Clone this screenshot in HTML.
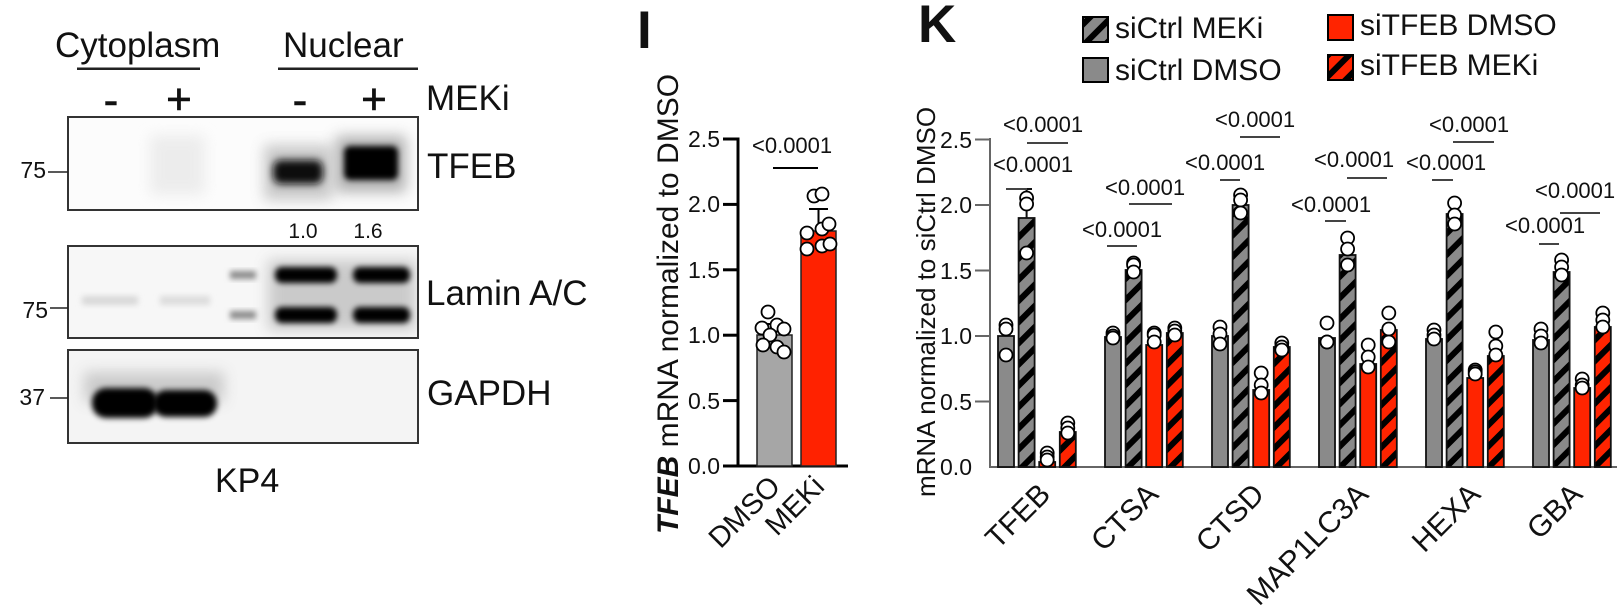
<!DOCTYPE html>
<html><head><meta charset="utf-8"><style>html,body{margin:0;padding:0;background:#fff;}svg{display:block}</style></head>
<body>
<svg width="1622" height="606" viewBox="0 0 1622 606" xmlns="http://www.w3.org/2000/svg" font-family="'Liberation Sans', Arial, sans-serif" fill="#111">
<defs>
  <filter id="b3" x="-50%" y="-50%" width="200%" height="200%"><feGaussianBlur stdDeviation="3"/></filter>
  <filter id="b4" x="-50%" y="-50%" width="200%" height="200%"><feGaussianBlur stdDeviation="4"/></filter>
  <filter id="b7" x="-50%" y="-50%" width="200%" height="200%"><feGaussianBlur stdDeviation="7"/></filter>
  <clipPath id="c1"><rect x="68" y="117" width="350" height="93"/></clipPath>
  <clipPath id="c2"><rect x="68" y="246" width="350" height="92"/></clipPath>
  <clipPath id="c3"><rect x="68" y="350" width="350" height="93"/></clipPath>
  <pattern id="hg" patternUnits="userSpaceOnUse" width="15" height="15" patternTransform="rotate(45)">
    <rect width="15" height="15" fill="#8a8a8a"/><rect width="6" height="15" fill="#000"/>
  </pattern>
  <pattern id="hr" patternUnits="userSpaceOnUse" width="15" height="15" patternTransform="rotate(45)">
    <rect width="15" height="15" fill="#ff2400"/><rect width="6" height="15" fill="#000"/>
  </pattern>
</defs>

<!-- ===== Western blot ===== -->
<text x="55" y="57" font-size="35">Cytoplasm</text>
<rect x="77" y="67.5" width="123" height="2.5" fill="#222"/>
<text x="283" y="57" font-size="35">Nuclear</text>
<rect x="278" y="67.5" width="140" height="2.5" fill="#222"/>
<g font-size="44" text-anchor="middle" stroke="#111" stroke-width="0.6">
  <text x="111" y="115">-</text><text x="179" y="114">+</text>
  <text x="300" y="115">-</text><text x="374" y="114">+</text>
</g>
<text x="426" y="110" font-size="35">MEKi</text>

<!-- TFEB blot -->
<rect x="68" y="117" width="350" height="93" fill="#fcfcfc"/>
<g clip-path="url(#c1)">
  <rect x="150" y="135" width="55" height="60" fill="#e2e2e2" filter="url(#b7)" opacity="0.6"/>
  <rect x="264" y="145" width="68" height="55" fill="#888" filter="url(#b7)" opacity="0.45"/>
  <rect x="273" y="160" width="50" height="24" rx="8" fill="#111" filter="url(#b4)"/>
  <rect x="336" y="136" width="70" height="56" fill="#666" filter="url(#b7)" opacity="0.5"/>
  <rect x="344" y="146" width="54" height="34" rx="6" fill="#000" filter="url(#b3)"/>
</g>
<rect x="68" y="117" width="350" height="93" fill="none" stroke="#333" stroke-width="2"/>
<text x="46" y="178" font-size="23" text-anchor="end">75</text>
<line x1="48" y1="172" x2="68" y2="172" stroke="#222" stroke-width="1.6"/>
<text x="427" y="178" font-size="35">TFEB</text>
<text x="303" y="238" font-size="21" text-anchor="middle">1.0</text>
<text x="368" y="238" font-size="21" text-anchor="middle">1.6</text>

<!-- Lamin blot -->
<rect x="68" y="246" width="350" height="92" fill="#f7f7f7"/>
<g clip-path="url(#c2)">
  <rect x="82" y="296" width="56" height="9" fill="#d8d8d8" filter="url(#b3)"/>
  <rect x="160" y="296" width="50" height="9" fill="#dcdcdc" filter="url(#b3)"/>
  <rect x="230" y="271" width="26" height="8" fill="#8a8a8a" filter="url(#b3)"/>
  <rect x="230" y="311" width="26" height="8" fill="#8a8a8a" filter="url(#b3)"/>
  <rect x="268" y="260" width="148" height="70" fill="#888" filter="url(#b7)" opacity="0.4"/>
  <rect x="275" y="267" width="62" height="16" rx="7" fill="#000" filter="url(#b3)"/>
  <rect x="353" y="267" width="57" height="16" rx="7" fill="#000" filter="url(#b3)"/>
  <rect x="275" y="307" width="62" height="16" rx="7" fill="#000" filter="url(#b3)"/>
  <rect x="353" y="307" width="57" height="16" rx="7" fill="#000" filter="url(#b3)"/>
</g>
<rect x="68" y="246" width="350" height="92" fill="none" stroke="#333" stroke-width="2"/>
<text x="48" y="318" font-size="23" text-anchor="end">75</text>
<line x1="50" y1="308" x2="68" y2="308" stroke="#222" stroke-width="1.6"/>
<text x="426" y="305" font-size="35">Lamin A/C</text>

<!-- GAPDH blot -->
<rect x="68" y="350" width="350" height="93" fill="#f4f4f4"/>
<g clip-path="url(#c3)">
  <rect x="84" y="372" width="140" height="30" fill="#999" filter="url(#b7)" opacity="0.45"/>
  <rect x="92" y="388" width="66" height="30" rx="14" fill="#000" filter="url(#b3)"/>
  <rect x="153" y="390" width="64" height="27" rx="13" fill="#000" filter="url(#b3)"/>
</g>
<rect x="68" y="350" width="350" height="93" fill="none" stroke="#333" stroke-width="2"/>
<text x="45" y="405" font-size="23" text-anchor="end">37</text>
<line x1="50" y1="398" x2="68" y2="398" stroke="#222" stroke-width="1.6"/>
<text x="427" y="405" font-size="35">GAPDH</text>
<text x="215" y="492" font-size="34">KP4</text>

<!-- ===== Panel I ===== -->
<text x="637" y="48" font-size="53" font-weight="bold">I</text>
<g transform="translate(678,304) rotate(-90)"><text x="0" y="0" font-size="30" text-anchor="middle"><tspan font-weight="bold" font-style="italic">TFEB</tspan> mRNA normalized to DMSO</text></g>
<g stroke="#000" stroke-width="3">
  <line x1="738" y1="137.5" x2="738" y2="467.5"/>
  <line x1="736.5" y1="466" x2="848" y2="466"/>
  <line x1="723" y1="139" x2="738" y2="139"/>
  <line x1="723" y1="204.4" x2="738" y2="204.4"/>
  <line x1="723" y1="269.8" x2="738" y2="269.8"/>
  <line x1="723" y1="335.2" x2="738" y2="335.2"/>
  <line x1="723" y1="400.6" x2="738" y2="400.6"/>
  <line x1="723" y1="466" x2="738" y2="466"/>
</g>
<g font-size="23" text-anchor="end">
  <text x="720" y="147">2.5</text><text x="720" y="212">2.0</text><text x="720" y="278">1.5</text>
  <text x="720" y="343">1.0</text><text x="720" y="409">0.5</text><text x="720" y="474">0.0</text>
</g>
<rect x="757" y="335" width="35" height="131" fill="#a6a6a6" stroke="#222" stroke-width="1.5"/>
<rect x="801" y="231" width="35" height="235" fill="#ff2200" stroke="#222" stroke-width="1.5"/>
<g stroke="#000" stroke-width="2">
  <line x1="818.5" y1="231" x2="818.5" y2="209"/><line x1="809" y1="209" x2="828" y2="209"/>
  <line x1="774.5" y1="335" x2="774.5" y2="324"/><line x1="767" y1="324" x2="782" y2="324"/>
  <line x1="773" y1="168" x2="818" y2="168"/>
</g>
<text x="752" y="153" font-size="22">&lt;0.0001</text>
<g fill="#fff" stroke="#000" stroke-width="1.8">
  <circle cx="768" cy="312" r="6.5"/><circle cx="762" cy="328" r="6.5"/><circle cx="777" cy="325" r="6.5"/>
  <circle cx="784" cy="329" r="6.5"/><circle cx="770" cy="335" r="6.5"/><circle cx="763" cy="345" r="6.5"/>
  <circle cx="777" cy="347" r="6.5"/><circle cx="784" cy="352" r="6.5"/>
  <circle cx="814" cy="196" r="6.5"/><circle cx="822" cy="194" r="6.5"/><circle cx="807" cy="233" r="6.5"/>
  <circle cx="822" cy="229" r="6.5"/><circle cx="829" cy="224" r="6.5"/><circle cx="807" cy="249" r="6.5"/>
  <circle cx="822" cy="246" r="6.5"/><circle cx="830" cy="244" r="6.5"/>
</g>
<g font-size="29" text-anchor="end">
  <text transform="translate(782,488) rotate(-45)">DMSO</text>
  <text transform="translate(826,488) rotate(-45)">MEKi</text>
</g>

<!-- ===== Panel K ===== -->
<text x="918" y="42" font-size="53" font-weight="bold">K</text>
<rect x="1083" y="17" width="25" height="25" fill="url(#hg)" stroke="#000" stroke-width="2"/>
<text x="1115" y="38" font-size="30">siCtrl MEKi</text>
<rect x="1083" y="58" width="25" height="24" fill="#8a8a8a" stroke="#000" stroke-width="2"/>
<text x="1115" y="80" font-size="30">siCtrl DMSO</text>
<rect x="1328" y="15" width="25" height="25" fill="#ff2400" stroke="#000" stroke-width="2"/>
<text x="1360" y="35" font-size="30">siTFEB DMSO</text>
<rect x="1328" y="55" width="25" height="25" fill="url(#hr)" stroke="#000" stroke-width="2"/>
<text x="1360" y="75" font-size="30">siTFEB MEKi</text>

<g transform="translate(935,302) rotate(-90)"><text x="0" y="0" font-size="26" text-anchor="middle">mRNA normalized to siCtrl DMSO</text></g>
<g stroke="#666" stroke-width="2">
  <line x1="990" y1="138" x2="990" y2="468"/>
  <line x1="989" y1="467" x2="1617" y2="467"/>
  <line x1="975" y1="139.5" x2="990" y2="139.5"/>
  <line x1="975" y1="205" x2="990" y2="205"/>
  <line x1="975" y1="270.5" x2="990" y2="270.5"/>
  <line x1="975" y1="336" x2="990" y2="336"/>
  <line x1="975" y1="401.5" x2="990" y2="401.5"/>
</g>
<g font-size="23" text-anchor="end">
  <text x="972" y="148">2.5</text><text x="972" y="213">2.0</text><text x="972" y="279">1.5</text>
  <text x="972" y="344">1.0</text><text x="972" y="410">0.5</text><text x="972" y="475">0.0</text>
</g>

<g stroke="#111" stroke-width="1.8">
  <rect x="998" y="336" width="16" height="131" fill="#8a8a8a"/>
  <rect x="1018.6" y="218" width="16" height="249" fill="url(#hg)"/>
  <rect x="1039.2" y="462" width="16" height="5" fill="#ff2400"/>
  <rect x="1059.8" y="432" width="16" height="35" fill="url(#hr)"/>
  <rect x="1105" y="337" width="16" height="130" fill="#8a8a8a"/>
  <rect x="1125.6" y="270" width="16" height="197" fill="url(#hg)"/>
  <rect x="1146.2" y="345" width="16" height="122" fill="#ff2400"/>
  <rect x="1166.8" y="333" width="16" height="134" fill="url(#hr)"/>
  <rect x="1212" y="336" width="16" height="131" fill="#8a8a8a"/>
  <rect x="1232.6" y="205" width="16" height="262" fill="url(#hg)"/>
  <rect x="1253.2" y="390" width="16" height="77" fill="#ff2400"/>
  <rect x="1273.8" y="347" width="16" height="120" fill="url(#hr)"/>
  <rect x="1319" y="338" width="16" height="129" fill="#8a8a8a"/>
  <rect x="1339.6" y="255" width="16" height="212" fill="url(#hg)"/>
  <rect x="1360.2" y="364" width="16" height="103" fill="#ff2400"/>
  <rect x="1380.8" y="330" width="16" height="137" fill="url(#hr)"/>
  <rect x="1426" y="339" width="16" height="128" fill="#8a8a8a"/>
  <rect x="1446.6" y="214" width="16" height="253" fill="url(#hg)"/>
  <rect x="1467.2" y="378" width="16" height="89" fill="#ff2400"/>
  <rect x="1487.8" y="356" width="16" height="111" fill="url(#hr)"/>
  <rect x="1533" y="340" width="16" height="127" fill="#8a8a8a"/>
  <rect x="1553.6" y="272" width="16" height="195" fill="url(#hg)"/>
  <rect x="1574.2" y="388" width="16" height="79" fill="#ff2400"/>
  <rect x="1594.8" y="327" width="16" height="140" fill="url(#hr)"/>
</g>
<g stroke="#111" stroke-width="2">
  <line x1="1026.6" y1="218" x2="1026.6" y2="189"/><line x1="1021" y1="189" x2="1032" y2="189"/>
  <line x1="1006" y1="336" x2="1006" y2="326"/><line x1="1001" y1="326" x2="1011" y2="326"/>
</g>

<g fill="#fff" stroke="#000" stroke-width="1.8">
  <circle cx="1006" cy="325" r="6.5"/><circle cx="1006" cy="329" r="6.5"/><circle cx="1006" cy="355" r="6.5"/>
  <circle cx="1026.6" cy="198" r="6.5"/><circle cx="1026.6" cy="204" r="6.5"/><circle cx="1026.6" cy="253" r="6.5"/>
  <circle cx="1047.2" cy="453" r="6.5"/><circle cx="1047.2" cy="457" r="6.5"/><circle cx="1047.2" cy="460" r="6.5"/>
  <circle cx="1067.8" cy="423" r="6.5"/><circle cx="1067.8" cy="428" r="6.5"/><circle cx="1067.8" cy="433" r="6.5"/>

  <circle cx="1113" cy="333" r="6.5"/><circle cx="1113" cy="336" r="6.5"/><circle cx="1113" cy="338" r="6.5"/>
  <circle cx="1133.6" cy="263" r="6.5"/><circle cx="1133.6" cy="265" r="6.5"/><circle cx="1133.6" cy="272" r="6.5"/>
  <circle cx="1154.2" cy="333" r="6.5"/><circle cx="1154.2" cy="335" r="6.5"/><circle cx="1154.2" cy="342" r="6.5"/>
  <circle cx="1174.8" cy="328" r="6.5"/><circle cx="1174.8" cy="331" r="6.5"/><circle cx="1174.8" cy="335" r="6.5"/>

  <circle cx="1220" cy="327" r="6.5"/><circle cx="1220" cy="334" r="6.5"/><circle cx="1220" cy="344" r="6.5"/>
  <circle cx="1240.6" cy="195" r="6.5"/><circle cx="1240.6" cy="200" r="6.5"/><circle cx="1240.6" cy="213" r="6.5"/>
  <circle cx="1261.2" cy="373" r="6.5"/><circle cx="1261.2" cy="385" r="6.5"/><circle cx="1261.2" cy="393" r="6.5"/>
  <circle cx="1281.8" cy="343" r="6.5"/><circle cx="1281.8" cy="347" r="6.5"/><circle cx="1281.8" cy="350" r="6.5"/>

  <circle cx="1327" cy="323" r="6.5"/><circle cx="1327" cy="342" r="6.5"/><circle cx="1327" cy="342" r="6.5"/>
  <circle cx="1347.6" cy="238" r="6.5"/><circle cx="1347.6" cy="249" r="6.5"/><circle cx="1347.6" cy="265" r="6.5"/>
  <circle cx="1368.2" cy="345" r="6.5"/><circle cx="1368.2" cy="357" r="6.5"/><circle cx="1368.2" cy="367" r="6.5"/>
  <circle cx="1388.8" cy="313" r="6.5"/><circle cx="1388.8" cy="329" r="6.5"/><circle cx="1388.8" cy="342" r="6.5"/>

  <circle cx="1434" cy="330" r="6.5"/><circle cx="1434" cy="335" r="6.5"/><circle cx="1434" cy="339" r="6.5"/>
  <circle cx="1454.6" cy="203" r="6.5"/><circle cx="1454.6" cy="215" r="6.5"/><circle cx="1454.6" cy="224" r="6.5"/>
  <circle cx="1475.2" cy="370" r="6.5"/><circle cx="1475.2" cy="372" r="6.5"/><circle cx="1475.2" cy="374" r="6.5"/>
  <circle cx="1495.8" cy="332" r="6.5"/><circle cx="1495.8" cy="346" r="6.5"/><circle cx="1495.8" cy="355" r="6.5"/>

  <circle cx="1541" cy="329" r="6.5"/><circle cx="1541" cy="336" r="6.5"/><circle cx="1541" cy="343" r="6.5"/>
  <circle cx="1561.6" cy="260" r="6.5"/><circle cx="1561.6" cy="267" r="6.5"/><circle cx="1561.6" cy="275" r="6.5"/>
  <circle cx="1582.2" cy="379" r="6.5"/><circle cx="1582.2" cy="385" r="6.5"/><circle cx="1582.2" cy="388" r="6.5"/>
  <circle cx="1602.8" cy="313" r="6.5"/><circle cx="1602.8" cy="320" r="6.5"/><circle cx="1602.8" cy="327" r="6.5"/>
</g>

<g font-size="22">
  <text x="1003" y="132">&lt;0.0001</text><text x="993" y="172">&lt;0.0001</text>
  <text x="1105" y="195">&lt;0.0001</text><text x="1082" y="237">&lt;0.0001</text>
  <text x="1215" y="127">&lt;0.0001</text><text x="1185" y="170">&lt;0.0001</text>
  <text x="1314" y="167">&lt;0.0001</text><text x="1291" y="212">&lt;0.0001</text>
  <text x="1429" y="132">&lt;0.0001</text><text x="1406" y="170">&lt;0.0001</text>
  <text x="1535" y="198">&lt;0.0001</text><text x="1505" y="233">&lt;0.0001</text>
</g>
<g stroke="#444" stroke-width="2">
  <line x1="1027" y1="143" x2="1068" y2="143"/><line x1="1006" y1="189" x2="1027" y2="189"/>
  <line x1="1129" y1="204" x2="1172" y2="204"/><line x1="1107" y1="246" x2="1137" y2="246"/>
  <line x1="1240" y1="137" x2="1280" y2="137"/><line x1="1220" y1="180" x2="1240" y2="180"/>
  <line x1="1347" y1="178" x2="1387" y2="178"/><line x1="1325" y1="221" x2="1346" y2="221"/>
  <line x1="1453" y1="142" x2="1494" y2="142"/><line x1="1432" y1="180" x2="1453" y2="180"/>
  <line x1="1560" y1="213" x2="1600" y2="213"/><line x1="1539" y1="244" x2="1559" y2="244"/>
</g>

<g font-size="30" text-anchor="end">
  <text transform="translate(1052,496) rotate(-45)">TFEB</text>
  <text transform="translate(1160,496) rotate(-45)">CTSA</text>
  <text transform="translate(1266,496) rotate(-45)">CTSD</text>
  <text transform="translate(1370,496) rotate(-45)">MAP1LC3A</text>
  <text transform="translate(1482,496) rotate(-45)">HEXA</text>
  <text transform="translate(1584,496) rotate(-45)">GBA</text>
</g>
</svg>
</body></html>
